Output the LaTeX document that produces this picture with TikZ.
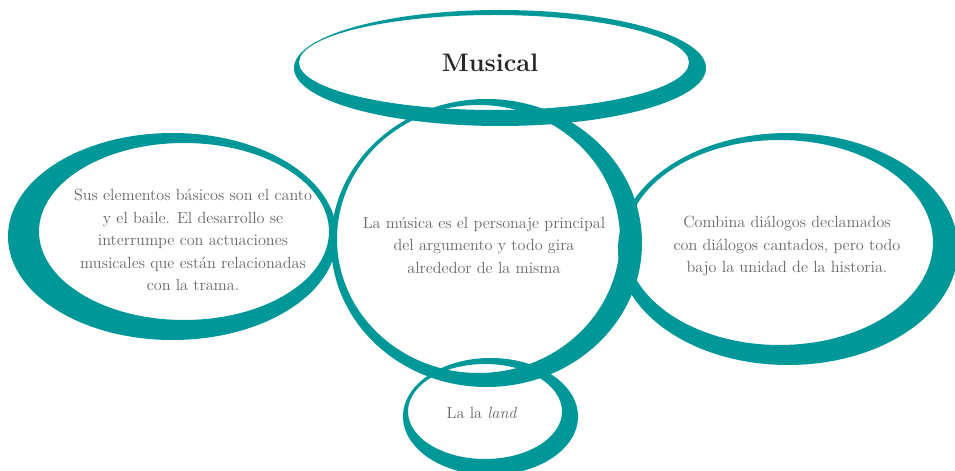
\documentclass[tikz,border=0pt]{standalone}
\usepackage{tikz}
\definecolor{brushteal}{RGB}{0,151,153}
\definecolor{textgray}{RGB}{102,102,102}

\begin{document}
\begin{tikzpicture}[
            x = 0.025cm, % one pixel of the sketch
            y = -0.025cm,
            even odd rule
            ]

        \tikzstyle{brush}=[
            fill = brushteal
        ]
        \tikzstyle{txt}=[
            text = textgray,
            align = center,
            font = \fontsize{11.5}{16}\selectfont
        ]

	\useasboundingbox (0,0) rectangle (955,471);
	\clip (0,0) rectangle (955,471);

	% brush rings: outer ellipse minus shifted inner one
	\fill[brush] (500,68) ellipse (206 and 58) (494,62.5) ellipse (195 and 47.5);
	\fill[brush] (172.5,236.5) ellipse (164.5 and 103.5) (184,231.5) ellipse (145 and 88.5);
	\fill[brush] (486.5,243) ellipse (155.5 and 144) (478.5,239) ellipse (141.5 and 134);
	\fill[brush] (788,249) ellipse (170 and 116) (779.5,242.5) ellipse (153.5 and 102.5);
	\fill[brush] (490.5,416.5) ellipse (87.5 and 58.5) (485,411.5) ellipse (77 and 47.5);

	% texts
	\node (title) at (490,63) {\fontsize{18}{21}\selectfont\bfseries\color{black!85} Musical};
	\node[txt] (basics) at (193,240) {Sus elementos básicos son el canto\\ y el baile. El desarrollo se\\ interrumpe con actuaciones\\ musicales que están relacionadas\\ con la trama.};
	\node[txt] (centre) at (484,245) {La música es el personaje principal\\ del argumento y todo gira\\ alrededor de la misma};
	\node[txt] (dialog) at (787,246) {Combina diálogos declamados\\ con diálogos cantados, pero todo\\ bajo la unidad de la historia.};
	\node[txt] (film) at (482,413) {La la \textit{land}};

\end{tikzpicture}
\end{document}
